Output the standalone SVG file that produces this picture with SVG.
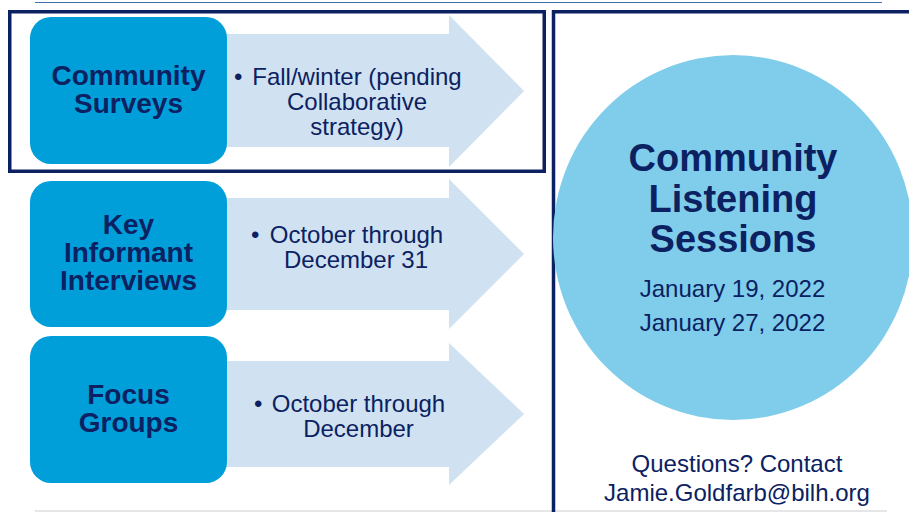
<svg xmlns="http://www.w3.org/2000/svg" width="909" height="512" viewBox="0 0 909 512">
<style>
.box{fill:#009FDA}
.arrow{fill:#D0E1F2}
.frame{fill:none;stroke:#0B2161;stroke-width:3.5}
.lbl{font-family:"Liberation Sans",Arial,sans-serif;font-weight:bold;font-size:28px;fill:#0B2161;text-anchor:middle}
.txt{font-family:"Liberation Sans",Arial,sans-serif;font-size:24px;fill:#0B2161;text-anchor:middle}
.bul{font-family:"Liberation Sans",Arial,sans-serif;font-size:24px;fill:#0B2161}
.title{font-family:"Liberation Sans",Arial,sans-serif;font-weight:bold;font-size:38px;fill:#0B2161;text-anchor:middle}
</style>
<rect width="909" height="512" fill="#FFFFFF"/>
<line x1="35" y1="2.5" x2="882" y2="2.5" stroke="#3F6FA8" stroke-width="1.2"/>
<line x1="35" y1="511" x2="887" y2="511" stroke="#E6E6E6" stroke-width="2"/>
<g id="connectors">
<polygon class="arrow" points="220,34 449,34 449,15 524,91 449,167 449,147 220,147"/>
<polygon class="arrow" points="220,198 449,198 449,179 524,254 449,329 449,310 220,310"/>
<polygon class="arrow" points="220,361 449,361 449,343 524,414 449,485 449,467 220,467"/>
</g>
<g id="frame-left"><rect class="frame" x="9.75" y="11.75" width="534.5" height="159.5"/></g>
<g id="frame-right"><path class="frame" d="M553.5,514 V11.75 H912"/></g>
<g id="node-surveys">
<rect class="box" x="30" y="17" width="197" height="147" rx="21"/>
<text class="lbl" x="128.5" y="85">Community</text>
<text class="lbl" x="128.5" y="113">Surveys</text>
<text class="bul" x="234" y="85">•</text>
<text class="txt" x="357" y="85">Fall/winter (pending</text>
<text class="txt" x="357" y="110">Collaborative</text>
<text class="txt" x="357" y="135">strategy)</text>
</g>
<g id="node-interviews">
<rect class="box" x="30" y="181" width="197" height="146" rx="21"/>
<text class="lbl" x="128.5" y="234">Key</text>
<text class="lbl" x="128.5" y="262">Informant</text>
<text class="lbl" x="128.5" y="290">Interviews</text>
<text class="bul" x="251" y="243">•</text>
<text class="txt" x="356.5" y="243">October through</text>
<text class="txt" x="356" y="268">December 31</text>
</g>
<g id="node-focus">
<rect class="box" x="30" y="336" width="197" height="147" rx="21"/>
<text class="lbl" x="128.5" y="404">Focus</text>
<text class="lbl" x="128.5" y="432">Groups</text>
<text class="bul" x="254" y="412">•</text>
<text class="txt" x="358.5" y="412">October through</text>
<text class="txt" x="358.5" y="437">December</text>
</g>
<g id="node-listening">
<ellipse cx="733" cy="237.5" rx="180" ry="182.5" fill="#80CDEB"/>
<text class="title" x="733" y="171">Community</text>
<text class="title" x="733" y="212">Listening</text>
<text class="title" x="733" y="252">Sessions</text>
<text class="txt" x="732.5" y="297">January 19, 2022</text>
<text class="txt" x="732.5" y="331">January 27, 2022</text>
</g>
<g id="contact">
<text class="txt" x="737" y="472">Questions? Contact</text>
<text class="txt" x="737" y="501">Jamie.Goldfarb@bilh.org</text>
</g>
</svg>
